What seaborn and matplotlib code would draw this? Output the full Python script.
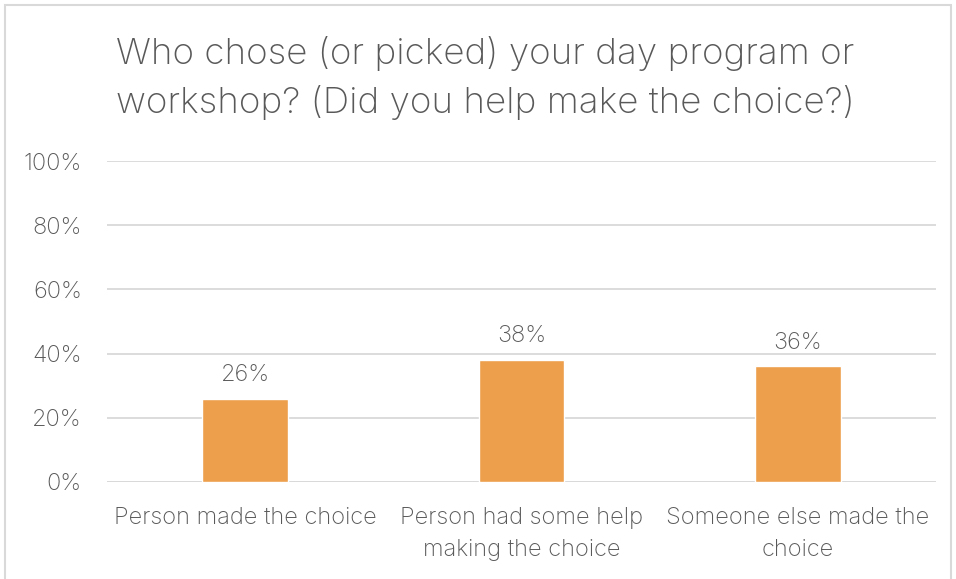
import matplotlib
matplotlib.use("Agg")
import matplotlib.pyplot as plt
import seaborn as sns
import pandas as pd
from matplotlib.patches import Rectangle

categories = ["Person made the choice",
              "Person had some help\nmaking the choice",
              "Someone else made the\nchoice"]
shares = [26, 38, 36]
yticks = [0, 20, 40, 60, 80, 100]
title = "Who chose (or picked) your day program or\nworkshop? (Did you help make the choice?)"

sns.set_theme(style="white")
plt.rcParams['font.family'] = ['Inter', 'DejaVu Sans']

text_col = "#595959"
grid_col = "#D9D9D9"
bar_col = "#ED9F4B"

df = pd.DataFrame({"who": categories, "share": shares})

fig = plt.figure(figsize=(9.56, 5.79), dpi=100)
ax = fig.add_axes([107 / 956, 1 - 482 / 579, 829 / 956, 321 / 579])

sns.barplot(data=df, x="who", y="share", color=bar_col, width=0.31,
            saturation=1, ax=ax, zorder=3)

ax.set_ylim(0, 100)
ax.set_xlim(-0.5, 2.5)
ax.set_yticks(yticks)
ax.set_yticklabels([f"{t}%" for t in yticks])
ax.yaxis.grid(True, color=grid_col, linewidth=1.3, zorder=0)
ax.set_axisbelow(True)
for s in ax.spines.values():
    s.set_visible(False)
ax.axhline(0, color=grid_col, linewidth=1.3, zorder=1)
ax.set_xlabel("")
ax.set_ylabel("")
ax.tick_params(axis="y", length=0, pad=18, labelsize=17, labelcolor=text_col)
ax.tick_params(axis="x", length=0, pad=18, labelsize=17, labelcolor=text_col)
for lab in ax.get_yticklabels():
    lab.set_fontweight("light")
for lab in ax.get_xticklabels():
    lab.set_fontweight("light")
    lab.set_linespacing(1.6)
    lab.set_va("top")

for i, v in enumerate(shares):
    ax.text(i, v + 4, f"{v}%", ha="center", va="bottom", fontsize=17,
            color=text_col, fontweight="light")

fig.text(485 / 956, 1 - 78 / 579, title, ha="center", va="center",
         fontsize=26.5, color=text_col, fontweight="light", linespacing=1.5)

fig.patches.append(Rectangle((5 / 956, -0.02), 0.99, 1 - 5 / 579 + 0.02,
                             transform=fig.transFigure, fill=False,
                             edgecolor="#D9D9D9", linewidth=1.5))

fig.savefig("out.png", dpi=100, facecolor="white")
